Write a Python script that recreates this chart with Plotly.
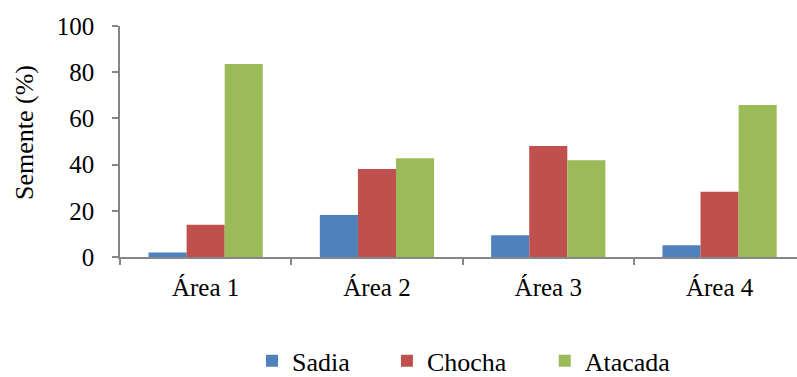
import plotly.graph_objects as go

areas = ["Área 1", "Área 2", "Área 3", "Área 4"]
sadia = [2.0, 18.2, 9.4, 5.1]
chocha = [14.0, 38.1, 48.0, 28.3]
atacada = [83.5, 42.7, 41.9, 65.8]

series = [
    ("Sadia", sadia, "#4F81BD", "legend", 0.3162),
    ("Chocha", chocha, "#C0504D", "legend2", 0.4855),
    ("Atacada", atacada, "#9BBB59", "legend3", 0.6835),
]

font_family = "Liberation Serif"
axis_color = "#868686"
tick_size = 25
text_size = 26

fig = go.Figure()
for name, vals, color, leg, _ in series:
    fig.add_trace(go.Bar(
        x=areas, y=vals, name=name, legend=leg,
        marker=dict(color=color, line=dict(width=0)),
    ))

# one legend per series so each entry sits at its own spot on the bottom row
layout_legends = {}
for name, vals, color, leg, lx in series:
    layout_legends[leg] = dict(
        orientation="h",
        xref="container", yref="container",
        x=lx, xanchor="left",
        y=0.043, yanchor="middle",
        font=dict(size=text_size, family=font_family, color="black"),
        itemwidth=30,
        bgcolor="rgba(0,0,0,0)",
    )

fig.update_layout(
    width=797, height=377,
    margin=dict(l=120, r=0, t=26, b=120, autoexpand=False),
    paper_bgcolor="white", plot_bgcolor="white",
    font=dict(family=font_family, size=tick_size, color="black"),
    barmode="group", bargap=0.333, bargroupgap=0,
    showlegend=True,
    xaxis=dict(
        range=[-0.5, 3.452],
        showline=True, linecolor=axis_color, linewidth=1.5,
        ticks="outside", tickson="boundaries", ticklen=6,
        tickcolor=axis_color, tickwidth=1.5,
        showgrid=False, zeroline=False,
        tickfont=dict(size=tick_size, family=font_family, color="black"),
        ticklabelstandoff=7,
    ),
    yaxis=dict(
        range=[0, 100], dtick=20,
        showline=True, linecolor=axis_color, linewidth=1.5,
        ticks="outside", ticklen=6, tickcolor=axis_color, tickwidth=1.5,
        showgrid=False, zeroline=False,
        tickfont=dict(size=tick_size, family=font_family, color="black"),
        ticklabelstandoff=13,
    ),
    annotations=[dict(
        text="Semente (%)", textangle=-90,
        xref="paper", yref="paper", x=-0.1403, y=0.537,
        xanchor="center", yanchor="middle", showarrow=False,
        font=dict(size=text_size, family=font_family, color="black"),
    )],
    **layout_legends,
)

fig.write_html("out.html")
